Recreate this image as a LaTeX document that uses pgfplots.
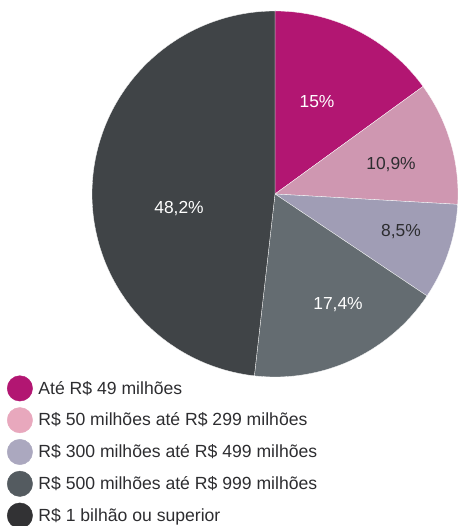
\documentclass[border=0pt]{standalone}
\usepackage{fontspec}
\setmainfont{Liberation Sans}
\usepackage{pgfplots}
\pgfplotsset{compat=1.18}
\definecolor{cMag}{RGB}{178,22,114}
\definecolor{cPink}{RGB}{207,151,177}
\definecolor{cLav}{RGB}{160,157,181}
\definecolor{cSlate}{RGB}{100,108,113}
\definecolor{cDark}{RGB}{64,68,71}
\definecolor{lPink}{RGB}{232,168,189}
\definecolor{lLav}{RGB}{171,168,191}
\definecolor{lSlate}{RGB}{84,91,96}
\definecolor{lDark}{RGB}{50,50,52}
\definecolor{txt}{RGB}{45,45,48}
\pgfplotsset{
  legcirc/.style={legend image code/.code={\fill[#1] (12.5bp,0) circle (12.7bp); \path[draw=none,fill=none] (0,-12.7bp) rectangle (31bp,12.7bp);}}
}
\begin{document}
\begin{tikzpicture}
\begin{axis}[
  scale only axis, width=458bp, height=526bp,
  xmin=0, xmax=458, ymin=0, ymax=526,
  hide axis, clip=false,
  legend cell align=left,
  legend style={at={(axis cs:7,150.5)}, anchor=north west, draw=none, fill=none,
    inner sep=0pt, outer sep=0pt, row sep=6.0bp,
    font=\fontsize{17.6bp}{20bp}\selectfont\color{txt},
    nodes={inner sep=0pt, outer sep=0pt, anchor=west}},
]
% wedges: cumulative percentages, clockwise from the top
\addplot[forget plot, fill=cMag, draw=white, line width=0.3bp, domain=0:15, samples=60, variable=\t]
  ({275+183*sin(3.6*\t)}, {332+183*cos(3.6*\t)}) -- (axis cs:275,332) -- cycle;
\addplot[forget plot, fill=cPink, draw=white, line width=0.3bp, domain=15:25.9, samples=50, variable=\t]
  ({275+183*sin(3.6*\t)}, {332+183*cos(3.6*\t)}) -- (axis cs:275,332) -- cycle;
\addplot[forget plot, fill=cLav, draw=white, line width=0.3bp, domain=25.9:34.4, samples=40, variable=\t]
  ({275+183*sin(3.6*\t)}, {332+183*cos(3.6*\t)}) -- (axis cs:275,332) -- cycle;
\addplot[forget plot, fill=cSlate, draw=white, line width=0.3bp, domain=34.4:51.8, samples=60, variable=\t]
  ({275+183*sin(3.6*\t)}, {332+183*cos(3.6*\t)}) -- (axis cs:275,332) -- cycle;
\addplot[forget plot, fill=cDark, draw=white, line width=0.3bp, domain=51.8:100, samples=150, variable=\t]
  ({275+183*sin(3.6*\t)}, {332+183*cos(3.6*\t)}) -- (axis cs:275,332) -- cycle;
% labels
\begin{scope}[every node/.style={font=\fontsize{17.4bp}{20bp}\selectfont, inner sep=0pt}]
\node[white] at (axis cs:317,424) {15\%};
\node[txt] at (axis cs:391,361) {10,9\%};
\node[txt] at (axis cs:401,294) {8,5\%};
\node[white] at (axis cs:338,221) {17,4\%};
\node[white] at (axis cs:179,317) {48,2\%};
\end{scope}
% legend
\addlegendimage{legcirc=cMag}
\addlegendentry{Até R\$ 49 milhões}
\addlegendimage{legcirc=lPink}
\addlegendentry{R\$ 50 milhões até R\$ 299 milhões}
\addlegendimage{legcirc=lLav}
\addlegendentry{R\$ 300 milhões até R\$ 499 milhões}
\addlegendimage{legcirc=lSlate}
\addlegendentry{R\$ 500 milhões até R\$ 999 milhões}
\addlegendimage{legcirc=lDark}
\addlegendentry{R\$ 1 bilhão ou superior}
\end{axis}
\pgfresetboundingbox
\path (current axis.south west) rectangle (current axis.north east);
\end{tikzpicture}
\end{document}
